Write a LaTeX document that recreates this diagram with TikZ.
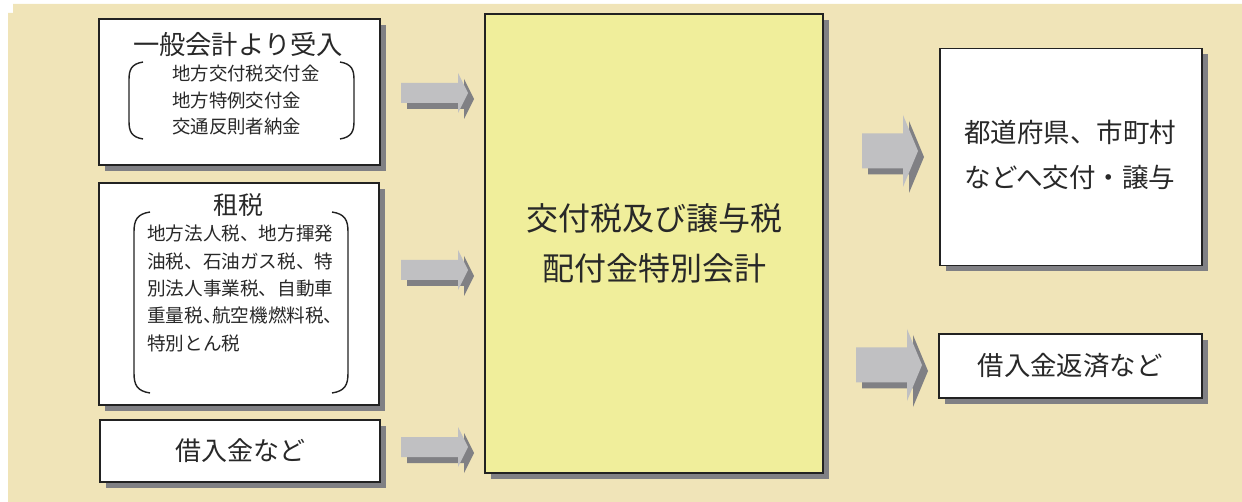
\documentclass[tikz,border=0pt]{standalone}
\usepackage{fontspec}
\setmainfont{Noto Sans CJK JP}
\usetikzlibrary{shadows}
\definecolor{bgbeige}{RGB}{240,228,184}
\definecolor{centeryellow}{RGB}{240,238,155}
\definecolor{shadowgray}{RGB}{128,128,132}
\definecolor{arrowlight}{RGB}{192,192,194}
\definecolor{boxline}{RGB}{34,34,34}
\definecolor{txt}{RGB}{40,40,40}
\tikzset{
  box/.style={draw=boxline, line width=1.6pt, fill=white, inner sep=0pt,
    drop shadow={shadow xshift=6pt, shadow yshift=-6pt, fill=shadowgray, opacity=1}},
  bracket/.style={draw=boxline, line width=1.4pt},
  lbl/.style={text=txt, inner sep=0pt},
  pics/barrow/.style n args={4}{code={
    % #1 total length, #2 head length, #3 body half height, #4 head half height
    \fill[shadowgray] (-#1+6,-#3+6) -- (-#2+6,-#3+6) -- (-#2+6,-#4+6) -- (6,6) -- (-#2+6,#4+6) -- (-#2+6,#3+6) -- (-#1+6,#3+6) -- cycle;
    \fill[arrowlight] (-#1,-#3) -- (-#2,-#3) -- (-#2,-#4) -- (0,0) -- (-#2,#4) -- (-#2,#3) -- (-#1,#3) -- cycle;
  }}
}
\begin{document}
\begin{tikzpicture}[x=1pt,y=-1pt]
\useasboundingbox (0,0) rectangle (1242,502);
\fill[bgbeige] (8,502) -- (8,13) -- (13,13) -- (13,4) -- (1242,4) -- (1242,502) -- cycle;

% boxes
\node[box, minimum width=281pt, minimum height=146pt] (gen) at (239.5,92) {};
\node[box, minimum width=280pt, minimum height=222pt] (tax) at (239,294) {};
\node[box, minimum width=280pt, minimum height=62pt] (loan) at (240,451) {};
\node[box, fill=centeryellow, minimum width=338pt, minimum height=459pt] (acct) at (654,243.5) {};
\node[box, minimum width=262pt, minimum height=217pt] (pref) at (1071,157) {};
\node[box, minimum width=263pt, minimum height=64pt] (repay) at (1070.5,366) {};

% box 1 text
\node[lbl, font=\fontsize{26.3}{30}\selectfont] (genT) at (238,44) {一般会計より受入};
\node[lbl, font=\fontsize{18.4}{26.5}\selectfont, align=left, anchor=north west] (genS) at (172,65) {地方交付税交付金\\地方特例交付金\\交通反則者納金};
\draw[bracket] (143,62) .. controls (131,64) and (129,70) .. (129,80) -- (129,121) .. controls (129,131) and (131,137) .. (143,139);
\draw[bracket] (340,62) .. controls (352,64) and (354,70) .. (354,80) -- (354,121) .. controls (354,131) and (352,137) .. (340,139);

% box 2 text
\node[lbl, font=\fontsize{25}{30}\selectfont] (taxT) at (238,205) {租税};
\node[lbl, font=\fontsize{18.6}{27.3}\selectfont, align=left, anchor=north west] (taxS) at (147,225) {地方法人税、地方揮発\\油税、石油ガス税、特\\別法人事業税、自動車\\重量税、\kern-0.5em航空機燃料税、\\特別とん税};
\draw[bracket] (150,212) .. controls (137,214) and (134,220) .. (134,232) -- (134,373) .. controls (134,385) and (137,391) .. (150,393);
\draw[bracket] (332,212) .. controls (345,214) and (348,220) .. (348,232) -- (348,373) .. controls (348,385) and (345,391) .. (332,393);

% box 3
\node[lbl, font=\fontsize{26}{30}\selectfont] (loanT) at (240,451) {借入金など};

% center
\node[lbl, font=\fontsize{32}{50}\selectfont, align=center] (acctT) at (654,243) {交付税及び譲与税\\配付金特別会計};

% right boxes
\node[lbl, font=\fontsize{26.5}{45}\selectfont, align=center] (prefT) at (1070,155) {都道府県、市町村\\などへ交付・譲与};
\node[lbl, font=\fontsize{26.4}{30}\selectfont] (repayT) at (1070,366) {借入金返済など};

% arrows
\pic at (468,93) {barrow={67}{10}{10}{20}};
\pic at (468,270) {barrow={67}{10}{10}{20}};
\pic at (468,447) {barrow={67}{10}{10}{20}};
\pic at (918,151) {barrow={56}{15}{17.5}{36}};
\pic at (922,365) {barrow={66}{15}{17.5}{36}};
\end{tikzpicture}
\end{document}
